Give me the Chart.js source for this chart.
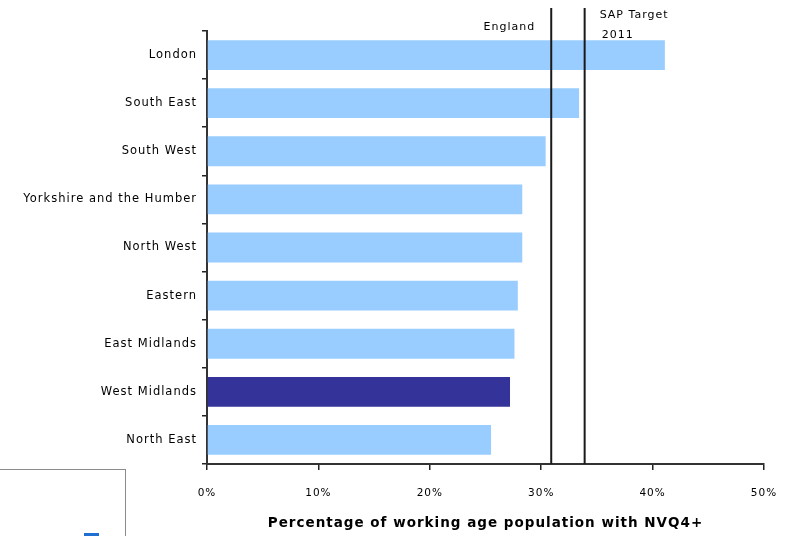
<!DOCTYPE html>
<html>
<head>
<meta charset="utf-8">
<script src="https://cdn.jsdelivr.net/npm/chart.js@4.4.0/dist/chart.umd.min.js"></script>
<style>
  html, body { margin: 0; padding: 0; background: #fff; }
  #wrap { position: relative; width: 787px; height: 536px; }
  #keybox {
    position: absolute; left: -1px; top: 469px; width: 125px; height: 70px;
    border: 1px solid #8a8a8a; background: #fff;
  }
  #keybox span {
    position: absolute; left: 84px; bottom: 3px; width: 15px; height: 4px; background: #1f6fd0;
  }
</style>
</head>
<body>
<div id="wrap">
  <canvas id="chart" width="787" height="536"></canvas>
  <div id="keybox"><span></span></div>
</div>
<script>
// regions and share of working age population with NVQ4+ (%)
const regions = ['London', 'South East', 'South West', 'Yorkshire and the Humber', 'North West',
                 'Eastern', 'East Midlands', 'West Midlands', 'North East'];
const nvq4Share = [41.1, 33.4, 30.4, 28.3, 28.3, 27.9, 27.6, 27.2, 25.5];
const barColours = ['#99ccff', '#99ccff', '#99ccff', '#99ccff', '#99ccff',
                    '#99ccff', '#99ccff', '#333399', '#99ccff'];

// reference lines
const englandRate = 30.9;
const sapTarget = 33.9;
const xTicks = [0, 10, 20, 30, 40, 50];

const FONT = '"DejaVu Sans", Verdana, sans-serif';

// wide letter spacing for all text on the canvas
const spacedText = {
    id: 'spacedText',
    beforeDraw(chart) {
        chart.ctx.letterSpacing = '1px';
    }
};

// vertical marker lines with their captions
const markerLines = {
    id: 'markerLines',
    afterDatasetsDraw(chart) {
        const ctx = chart.ctx;
        const x = chart.scales.x;
        const area = chart.chartArea;
        const xe = x.getPixelForValue(englandRate);
        const xs = x.getPixelForValue(sapTarget);
        ctx.save();
        ctx.strokeStyle = '#1a1a1a';
        ctx.lineWidth = 2;
        [xe, xs].forEach(px => {
            ctx.beginPath();
            ctx.moveTo(px, 8);
            ctx.lineTo(px, area.bottom);
            ctx.stroke();
        });
        ctx.fillStyle = '#000';
        ctx.font = '11px ' + FONT;
        ctx.textBaseline = 'middle';
        ctx.textAlign = 'right';
        ctx.fillText('England', xe - 16, 27);
        ctx.textAlign = 'left';
        ctx.fillText('SAP Target', xs + 15, 15);
        ctx.fillText('2011', xs + 17, 35);
        ctx.restore();
    }
};

new Chart(document.getElementById('chart'), {
    type: 'bar',
    data: {
        labels: regions,
        datasets: [{
            data: nvq4Share,
            backgroundColor: barColours,
            borderWidth: 0,
            barPercentage: 0.62,
            categoryPercentage: 1
        }]
    },
    options: {
        indexAxis: 'y',
        responsive: false,
        animation: false,
        layout: { padding: { top: 31, right: 23, left: 0, bottom: 0 } },
        plugins: { legend: { display: false }, tooltip: { enabled: false } },
        scales: {
            x: {
                min: 0,
                max: 50,
                afterBuildTicks: scale => { scale.ticks = xTicks.map(v => ({ value: v })); },
                afterFit: scale => {
                    scale.height = 72;
                    scale.paddingLeft = 0;
                    scale.paddingRight = 0;
                },
                grid: { drawOnChartArea: false, tickLength: 6, color: '#222', lineWidth: 1.5 },
                border: { color: '#333', width: 2 },
                ticks: {
                    callback: v => v + '%',
                    color: '#000',
                    padding: 17,
                    font: { family: FONT, size: 10.5 }
                },
                title: {
                    display: true,
                    text: 'Percentage of working age population with NVQ4+',
                    color: '#000',
                    padding: { top: 4 },
                    font: { family: FONT, size: 13.5, weight: 'bold' }
                }
            },
            y: {
                afterFit: scale => { scale.width = 207; },
                grid: { drawOnChartArea: false, tickLength: 5, color: '#222', lineWidth: 1.5 },
                border: { color: '#333', width: 2 },
                ticks: {
                    color: '#000',
                    padding: 5,
                    font: { family: FONT, size: 11.5 }
                }
            }
        }
    },
    plugins: [spacedText, markerLines]
});
</script>
</body>
</html>
